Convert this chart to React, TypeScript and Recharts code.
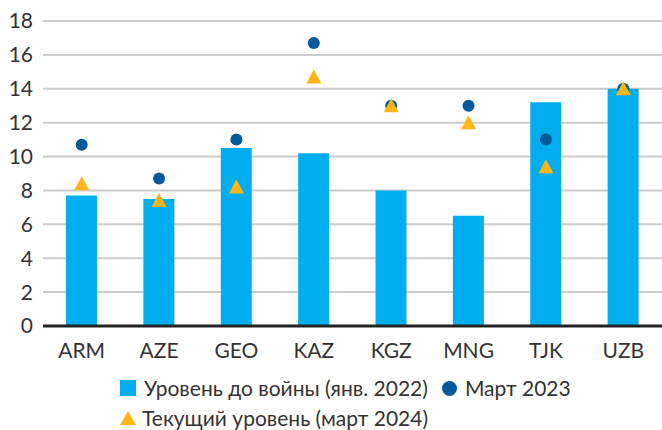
import React from 'react';
import { ComposedChart, Bar, Scatter, XAxis, YAxis, CartesianGrid } from 'recharts';

const countries = ['ARM', 'AZE', 'GEO', 'KAZ', 'KGZ', 'MNG', 'TJK', 'UZB'];
const preWar = [7.7, 7.5, 10.5, 10.2, 8.0, 6.5, 13.2, 14.0];
const march2023 = [10.7, 8.7, 11.0, 16.7, 13.0, 13.0, 11.0, 14.0];
const march2024 = [8.4, 7.4, 8.2, 14.7, 13.0, 12.0, 9.4, 14.0];
const yTicks = [0, 2, 4, 6, 8, 10, 12, 14, 16, 18];

const BAR = '#00aeef';
const DOT = '#005a9c';
const TRI = '#fdb515';
const FONT = 'Lato, "Noto Sans", sans-serif';

const data = countries.map((c, i) => ({
    name: c,
    preWar: preWar[i],
    m2023: march2023[i],
    m2024: march2024[i],
}));

// точки — круг
const DotShape = (props: any) => {
    const { cx, cy } = props;
    return <circle cx={cx} cy={cy} r={6} fill={DOT} />;
};

// точки — треугольник
const TriShape = (props: any) => {
    const { cx, cy } = props;
    const h = 13;
    const w = 15;
    return (
        <polygon
            points={`${cx},${cy - h / 2 - 1} ${cx - w / 2},${cy + h / 2} ${cx + w / 2},${cy + h / 2}`}
            fill={TRI}
        />
    );
};

export default function App() {
    return (
        <div style={{ position: 'absolute', left: 0, top: 0, width: 662, height: 430, background: '#fff', fontFamily: FONT }}>
            <ComposedChart
                width={662}
                height={430}
                data={data}
                margin={{ top: 21, right: 0, left: 0, bottom: 70 }}
            >
                <CartesianGrid vertical={false} stroke="#cccccc" strokeWidth={2} />
                <XAxis
                    dataKey="name"
                    height={34}
                    axisLine={{ stroke: '#222', strokeWidth: 3 }}
                    tickLine={false}
                    tickMargin={11}
                    tick={{ fill: '#333', fontSize: 21, fontFamily: FONT }}
                />
                <YAxis
                    width={43}
                    domain={[0, 18]}
                    ticks={yTicks}
                    axisLine={false}
                    tickLine={false}
                    tickMargin={4}
                    tick={{ fill: '#333', fontSize: 21, fontFamily: FONT }}
                />
                <Bar dataKey="preWar" fill={BAR} barSize={31} isAnimationActive={false} />
                <Scatter dataKey="m2023" shape={<DotShape />} isAnimationActive={false} />
                <Scatter dataKey="m2024" shape={<TriShape />} isAnimationActive={false} />
            </ComposedChart>
            <div style={{ position: 'absolute', left: 120, top: 373, fontSize: 21, color: '#333', lineHeight: '30px' }}>
                <div style={{ display: 'flex', alignItems: 'center', whiteSpace: 'nowrap' }}>
                    <span style={{ width: 16, height: 16, background: BAR, display: 'inline-block', marginRight: 8 }} />
                    <span>Уровень до войны (янв. 2022)</span>
                    <span style={{ width: 15, height: 15, borderRadius: '50%', background: DOT, display: 'inline-block', marginLeft: 14, marginRight: 8 }} />
                    <span>Март 2023</span>
                </div>
                <div style={{ display: 'flex', alignItems: 'center', whiteSpace: 'nowrap' }}>
                    <svg width={16} height={15} style={{ marginRight: 6 }}>
                        <polygon points="8,0 0,14 16,14" fill={TRI} />
                    </svg>
                    <span>Текущий уровень (март 2024)</span>
                </div>
            </div>
        </div>
    );
}
